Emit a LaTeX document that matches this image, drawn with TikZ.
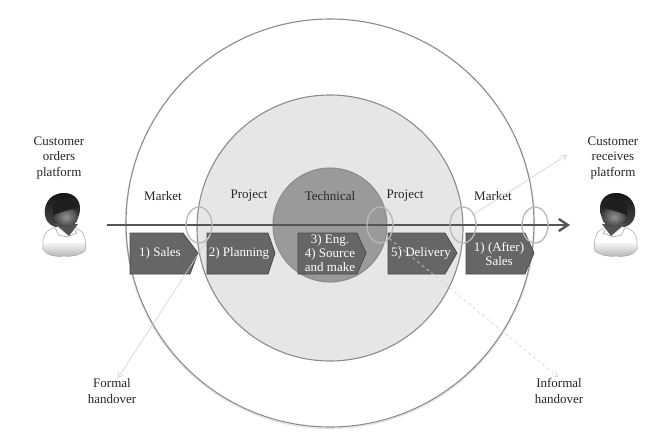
\documentclass[tikz,border=0pt]{standalone}
\usepackage{fontspec}
\setmainfont{Liberation Serif}
\usetikzlibrary{shapes.geometric,arrows.meta}
\definecolor{ringline}{HTML}{8C8C8C}
\definecolor{midfill}{HTML}{E6E6E6}
\definecolor{corefill}{HTML}{9A9A9A}
\definecolor{boxfill}{HTML}{666666}
\definecolor{boxline}{HTML}{4A4A4A}
\definecolor{axisline}{HTML}{555555}
\definecolor{handover}{HTML}{B8B8B8}
\definecolor{leader}{HTML}{D2D2D2}
\tikzset{
  x=1pt,y=-1pt,
  ring/.style={circle,draw=ringline,line width=1.1pt,inner sep=0pt},
  label/.style={font=\fontsize{13}{15.5}\selectfont,align=center,text=black!85,inner sep=0pt},
  boxtext/.style={font=\fontsize{13}{14}\selectfont,align=center,text=white,inner sep=0pt},
  flowbox/.style={fill=boxfill,draw=boxline,line width=0.8pt,line join=miter},
  handoverring/.style={ellipse,draw=handover,line width=1.3pt,minimum width=26pt,minimum height=36pt,inner sep=0pt},
  leaderline/.style={draw=leader,line width=0.6pt,-{Straight Barb[length=5pt,width=6pt]}},
  pics/person/.style={code={
    % body
    \path[draw=black!35,line width=0.5pt,top color=white,bottom color=black!30,middle color=white]
      (-21,24) .. controls (-22,15) and (-20,8) .. (-15,5)
      .. controls (-10,2) and (-6,1) .. (-3,0) -- (4,0)
      .. controls (9,1) and (15,4) .. (18,7)
      .. controls (22,12) and (22,22) .. (21,26)
      .. controls (14,31) and (6,32) .. (0,31)
      .. controls (-8,32) and (-17,31) .. (-21,24) -- cycle;
    % collar
    \draw[black!45,line width=0.4pt,fill=white] (-9,3) -- (-5,10) -- (3,12) -- (13,8) -- (9,3);
    % hair
    \path[top color=black!92,bottom color=black!72]
      (-18,-6) .. controls (-22,-16) and (-17,-32) .. (0,-32)
      .. controls (11,-32) and (16,-24) .. (16,-17)
      .. controls (16,-12) and (15,-8) .. (12,-4)
      -- (-8,2) .. controls (-13,1) and (-16,-2) .. (-18,-6) -- cycle;
    % neck
    \fill[black!68] (-9,-1) -- (14,-1) -- (5,11) -- cycle;
    % face
    \path[inner color=black!42,outer color=black!74] (2,-8) ellipse[x radius=12,y radius=10];
    % fringe
    \fill[black!88] (-11,-9) .. controls (-6,-13) and (6,-15) .. (15.5,-18)
      -- (11,-24) -- (-11,-24) -- cycle;
  }}
}
\newcommand{\flowshape}[7]{%
  % name, left, top-right, tip, bottom-right, text x, text
  \draw[flowbox] (#2,233) -- (#3,233) -- (#4,253) -- (#5,274) -- (#2,274) -- cycle;
  \node[boxtext] (#1) at (#6,253.5) {#7};
}
\begin{document}
\begin{tikzpicture}
\useasboundingbox (0,0) rectangle (656,440);
\fill[white] (0,0) rectangle (656,440);
% soft ring shadows
\draw[black!10,line width=1.2pt] (330,224) circle[radius=204.5];
\draw[black!30,line width=1.2pt] (330,229) circle[radius=133];
% rings
\node[ring,minimum size=408pt,fill=white] (outer) at (330,223) {};
\node[ring,minimum size=266pt,fill=midfill] (middle) at (330,228) {};
\node[ring,minimum size=114pt,fill=corefill] (core) at (330,225) {};
% ring labels
\node[label] (mk1) at (163,196) {Market};
\node[label] (pr1) at (249,196) {Project};
\node[label] (te) at (330,196) {Technical};
\node[label] (pr2) at (405,196) {Project};
\node[label] (mk2) at (493,196) {Market};
% customers
\node[label] (orders) at (59,158) {Customer\\orders\\platform};
\node[label] (receives) at (613,158) {Customer\\receives\\platform};
\pic at (64,225) {person};
\pic[xscale=-1] at (616,225) {person};
% process axis
\coordinate (axisstart) at (107,225);
\coordinate (axisend) at (570,225);
\draw[axisline,line width=2.2pt,-{Straight Barb[length=9pt,width=12pt,line width=2.4pt]}] (axisstart) -- (axisend);
% process steps
\flowshape{sales}{130}{183}{198}{190}{160}{1) Sales}
\flowshape{planning}{207}{268}{275}{268}{239}{2) Planning}
\flowshape{engmake}{298}{357}{366}{357}{330}{3) Eng.\\4) Source\\and make}
\flowshape{delivery}{388}{445}{457}{445}{421}{5) Delivery}
\flowshape{after}{466}{525}{534}{525}{499}{1) (After)\\Sales}
% handovers
\node[handoverring] (h1) at (199,225) {};
\node[handoverring] (h2) at (380,225) {};
\node[handoverring] (h3) at (463,225) {};
\node[handoverring] (h4) at (535,225) {};
% labels for handovers
\node[label] (formal) at (112,391) {Formal\\handover};
\node[label] (informal) at (559,391) {Informal\\handover};
\coordinate (formalend) at (118,378);
\coordinate (informalend) at (558,377);
\coordinate (receiveend) at (567,155);
\draw[leaderline] (h1.-45) -- (formalend);
\draw[leaderline,dashed] (h2.-55) -- (informalend);
\draw[leaderline] (h3.45) -- (receiveend);
\end{tikzpicture}
\end{document}
